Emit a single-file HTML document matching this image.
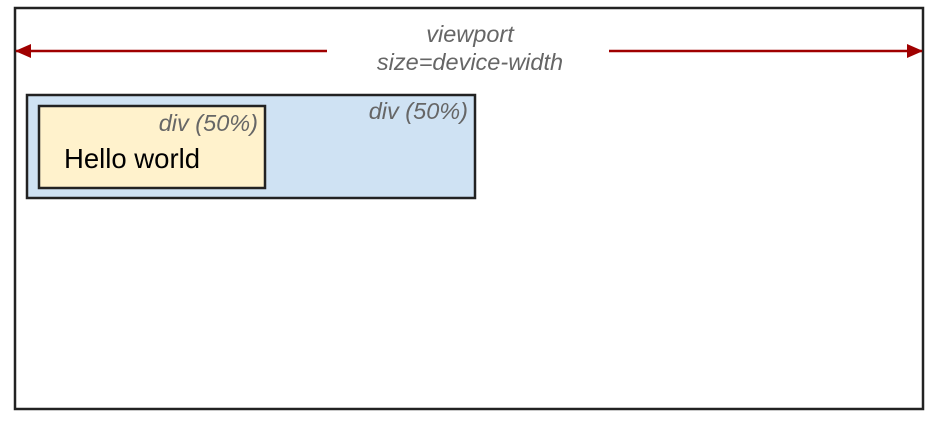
<!DOCTYPE html>
<html><head><meta charset="utf-8"><style>
html,body{margin:0;padding:0;background:#fff;width:937px;height:423px;overflow:hidden}
svg{display:block}
text{font-family:"Liberation Sans",sans-serif}
</style></head><body>
<svg width="937" height="423">
<defs><marker id="ah" markerWidth="16" markerHeight="14" refX="15" refY="7" orient="auto" markerUnits="userSpaceOnUse"><path d="M0,0 L16,7 L0,14 z" fill="#a00000"/></marker></defs>
<rect x="15" y="8" width="908" height="401" fill="#fff" stroke="#222" stroke-width="2.5"/>
<line x1="327" y1="51" x2="16" y2="51" stroke="#a00000" stroke-width="2.5" marker-end="url(#ah)"/>
<line x1="609" y1="51" x2="922" y2="51" stroke="#a00000" stroke-width="2.5" marker-end="url(#ah)"/>
<text x="470" y="42" text-anchor="middle" font-size="23.5" font-style="italic" fill="#666">viewport</text>
<text x="470" y="70" text-anchor="middle" font-size="23.5" font-style="italic" fill="#666">size=device-width</text>
<rect x="27" y="95" width="448" height="103" fill="#cfe2f3" stroke="#222" stroke-width="2.5"/>
<text x="468" y="119" text-anchor="end" font-size="23.5" font-style="italic" fill="#666">div (50%)</text>
<text x="0" y="0" font-size="1" fill="none"></text>
<rect x="39" y="106" width="226" height="82" fill="#fff2cc" stroke="#222" stroke-width="2.5"/>
<text x="258" y="131" text-anchor="end" font-size="23.5" font-style="italic" fill="#666">div (50%)</text>
<text x="64" y="168" font-size="27.5" fill="#000">Hello world</text>
</svg>
</body></html>
